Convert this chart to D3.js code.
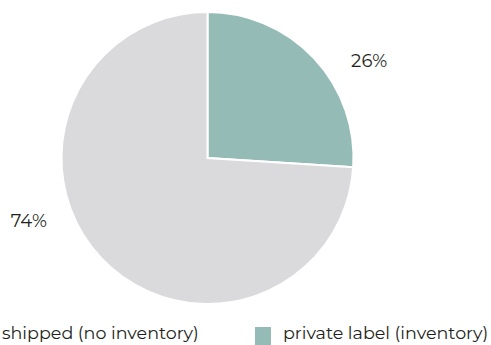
<!DOCTYPE html>
<html>
<head>
<meta charset="utf-8">
<script src="https://cdn.jsdelivr.net/npm/d3@7"></script>
<style>
  body { margin: 0; background: #fff; }
  text { font-family: "Montserrat", "Lato", "Noto Sans", sans-serif; fill: #231f20; }
</style>
</head>
<body>
<div id="vis"></div>
<script>
// data
var categories = ["private label (inventory)", "shipped (no inventory)"];
var values = [26, 74];
var colors = ["#95bbb7", "#dadadc"];
var legendOrder = ["shipped (no inventory)", "private label (inventory)"];

var width = 491, height = 345;
var cx = 207.5, cy = 158, radius = 146;

var svg = d3.select("#vis").append("svg")
  .attr("width", width).attr("height", height);

var g = svg.append("g")
  .attr("transform", "translate(" + cx + "," + cy + ")");

var pie = d3.pie().sort(null).value(d => d.value);
var arcs = pie(categories.map((c, i) => ({name: c, value: values[i], color: colors[i]})));

var arc = d3.arc().innerRadius(0).outerRadius(radius);

g.selectAll("path.slice")
  .data(arcs)
  .enter().append("path")
  .attr("class", "slice")
  .attr("d", arc)
  .attr("fill", d => d.data.color)
  .attr("stroke", "#fff")
  .attr("stroke-width", 2)
  .attr("stroke-linejoin", "miter");

// labels sit outside the pie, pushed along the arc a bit
var labelShift = [0.21, 0.42]; // radians
var labelR = 189;
g.selectAll("text.pct")
  .data(arcs)
  .enter().append("text")
  .attr("class", "pct")
  .attr("x", (d, i) => labelR * Math.sin((d.startAngle + d.endAngle) / 2 + labelShift[i]))
  .attr("y", (d, i) => -labelR * Math.cos((d.startAngle + d.endAngle) / 2 + labelShift[i]) + 7)
  .attr("text-anchor", "middle")
  .style("font-size", "18px")
  .style("letter-spacing", "0.3px")
  .text(d => d.data.value + "%");

// legend
var legend = svg.append("g").attr("transform", "translate(0,339)");
var legendX = d3.scalePoint().domain(legendOrder).range([-26, 255]);
var item = legend.selectAll("g")
  .data(legendOrder)
  .enter().append("g")
  .attr("transform", d => "translate(" + legendX(d) + ",0)");
item.append("rect")
  .attr("y", -12)
  .attr("width", 16).attr("height", 18)
  .attr("fill", d => colors[categories.indexOf(d)]);
item.append("text")
  .attr("x", 28)
  .style("font-size", "17.5px")
  .text(d => d);
</script>
</body>
</html>
